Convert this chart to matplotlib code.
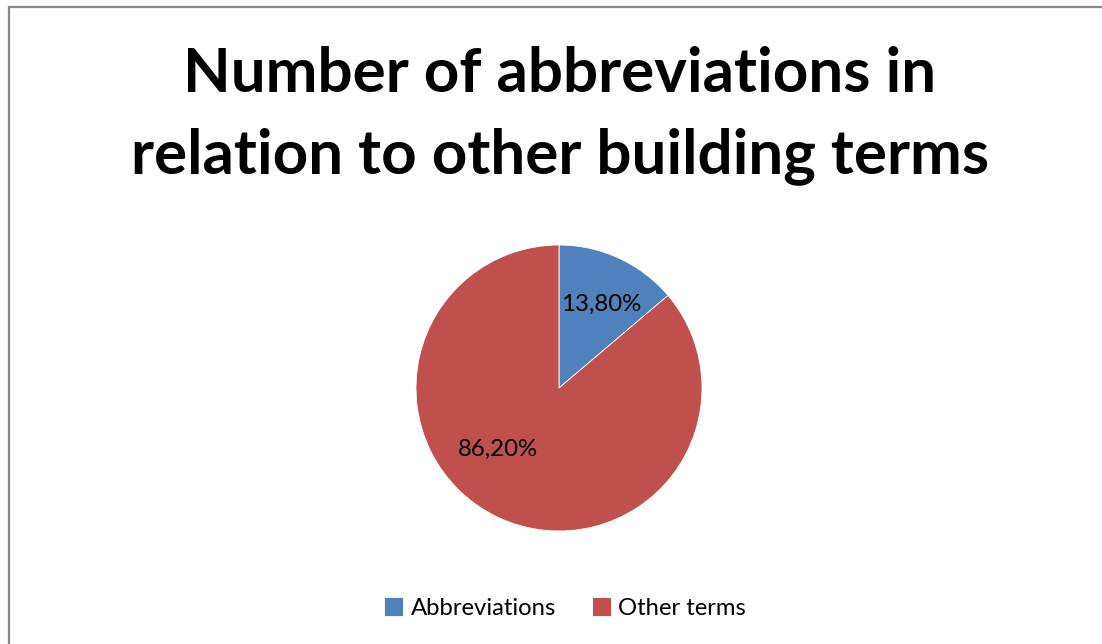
import matplotlib.pyplot as plt
from matplotlib.patches import Rectangle

labels = ["Abbreviations", "Other terms"]
shares = [13.8, 86.2]
colors = ["#4F81BD", "#C0504D"]
title_lines = ["Number of abbreviations in", "relation to other building terms"]

W, H = 1102, 644
fig = plt.figure(figsize=(W / 100, H / 100), dpi=100)
ax = fig.add_axes([0, 0, 1, 1])
ax.set_xlim(0, W)
ax.set_ylim(0, H)
ax.set_aspect("equal")
ax.axis("off")

font = "Lato"

# chart border (runs off the right and bottom edges)
ax.add_patch(Rectangle((9, -10), W + 20, H - 7 + 10, fill=False,
                       edgecolor="#898989", linewidth=1.6))
# tail of a caption letter above the chart
ax.text(35, H + 13, "g", fontsize=30, family="DejaVu Serif",
        ha="center", va="baseline", color="black")

ax.text(560, H - 74, title_lines[0], fontsize=44.6, fontweight="bold",
        family=font, ha="center", va="center")
ax.text(560, H - 156, title_lines[1], fontsize=44.6, fontweight="bold",
        family=font, ha="center", va="center")

wedges, _ = ax.pie(shares, colors=colors, startangle=90, counterclock=False,
                   center=(559, H - 388), radius=143,
                   wedgeprops=dict(edgecolor="white", linewidth=0.6))
ax.set_xlim(0, W)
ax.set_ylim(0, H)

label_pos = [(601, H - 304), (498, H - 449)]
for (x, y), v in zip(label_pos, shares):
    ax.text(x, y, f"{v:.2f}%".replace(".", ","), fontsize=17.3, family=font,
            ha="center", va="center")

leg = ax.legend(wedges, labels, loc="center", bbox_to_anchor=(565 / W, (H - 608) / H),
                ncol=2, frameon=False, prop=dict(family=font, size=17.2),
                handlelength=0.8, handleheight=0.8, handletextpad=0.3,
                columnspacing=1.5)

fig.savefig("out.png", dpi=100)
